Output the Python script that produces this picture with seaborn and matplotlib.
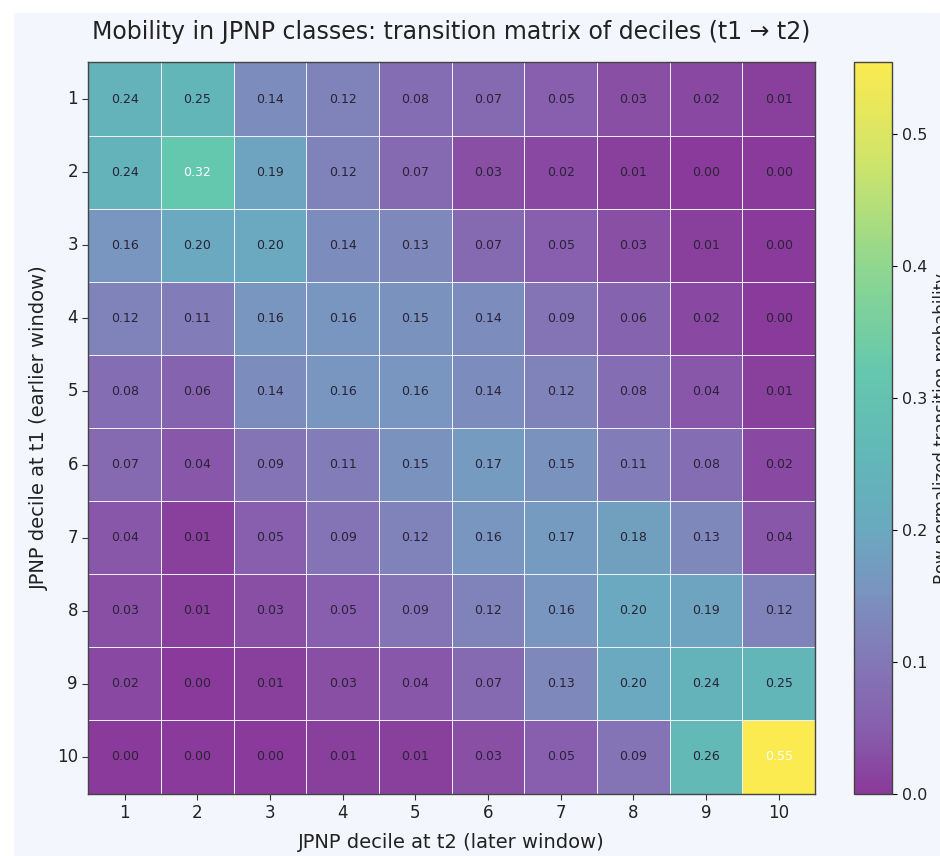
import numpy as np
import pandas as pd
import matplotlib
matplotlib.use("Agg")
import matplotlib.pyplot as plt
from matplotlib.colors import LinearSegmentedColormap
from matplotlib.patches import Rectangle
import seaborn as sns

deciles = [str(i) for i in range(1, 11)]
row_1 = [0.24, 0.25, 0.14, 0.12, 0.08, 0.07, 0.05, 0.03, 0.02, 0.01]
row_2 = [0.24, 0.32, 0.19, 0.12, 0.07, 0.03, 0.02, 0.01, 0.00, 0.00]
row_3 = [0.16, 0.20, 0.20, 0.14, 0.13, 0.07, 0.05, 0.03, 0.01, 0.00]
row_4 = [0.12, 0.11, 0.16, 0.16, 0.15, 0.14, 0.09, 0.06, 0.02, 0.00]
row_5 = [0.08, 0.06, 0.14, 0.16, 0.16, 0.14, 0.12, 0.08, 0.04, 0.01]
row_6 = [0.07, 0.04, 0.09, 0.11, 0.15, 0.17, 0.15, 0.11, 0.08, 0.02]
row_7 = [0.04, 0.01, 0.05, 0.09, 0.12, 0.16, 0.17, 0.18, 0.13, 0.04]
row_8 = [0.03, 0.01, 0.03, 0.05, 0.09, 0.12, 0.16, 0.20, 0.19, 0.12]
row_9 = [0.02, 0.00, 0.01, 0.03, 0.04, 0.07, 0.13, 0.20, 0.24, 0.25]
row_10 = [0.00, 0.00, 0.00, 0.01, 0.01, 0.03, 0.05, 0.09, 0.26, 0.554]

matrix = np.array([row_1, row_2, row_3, row_4, row_5, row_6, row_7, row_8, row_9, row_10])
df = pd.DataFrame(matrix, index=deciles, columns=deciles)
vmax = matrix.max()

# softened viridis-like palette as it appears in the reference
stops = [(0.00, "#8a3a9a"), (0.05, "#875fae"), (0.11, "#827db8"), (0.16, "#7897c0"),
         (0.20, "#6aa9bf"), (0.25, "#62b6b8"), (0.32, "#64c8ae"), (0.40, "#8fd78f"),
         (0.48, "#cfe46a"), (vmax, "#fbea50")]
cmap = LinearSegmentedColormap.from_list("soft_viridis", [(p / vmax, c) for p, c in stops])

bg = "#f3f6fc"
fig = plt.figure(figsize=(9.4, 8.56), dpi=100, facecolor=bg)
# white screenshot margins
fig.patches.append(Rectangle((0, 0), 0.014, 1, transform=fig.transFigure, color="white", zorder=-1))
fig.patches.append(Rectangle((0, 0.986), 1, 0.014, transform=fig.transFigure, color="white", zorder=-1))

ax = fig.add_axes([0.094, 0.073, 0.773, 0.854])
cax = fig.add_axes([0.909, 0.073, 0.040, 0.854])

sns.heatmap(df, ax=ax, cbar_ax=cax, cmap=cmap, vmin=0, vmax=vmax,
            annot=True, fmt=".2f", annot_kws={"fontsize": 9},
            linewidths=0.6, linecolor="#eef0f8",
            cbar_kws={"label": "Row-normalized transition probability"})

for t, v in zip(ax.texts, matrix.flatten()):
    t.set_color("white" if v > 0.3 else "#2a2236")

ax.set_facecolor(bg)
for s in ax.spines.values():
    s.set_visible(True)
    s.set_color("#444444")
    s.set_linewidth(1.0)
ax.tick_params(axis="both", labelsize=12, length=4, color="#333333", labelcolor="#222222")
ax.set_yticklabels(deciles, rotation=0)
ax.set_xticklabels(deciles, rotation=0)
ax.set_xlabel("JPNP decile at t2 (later window)", fontsize=14, color="#222222", labelpad=8)
ax.set_ylabel("JPNP decile at t1 (earlier window)", fontsize=14, color="#222222", labelpad=6)
ax.set_title("Mobility in JPNP classes: transition matrix of deciles (t1 \u2192 t2)", fontsize=17,
             color="#222222", pad=17)

cax.tick_params(labelsize=11.5, labelcolor="#222222")
cax.set_ylabel("Row-normalized transition probability", fontsize=12, color="#222222", labelpad=4)
cb = ax.collections[0].colorbar
cb.outline.set_edgecolor("#444444")
cb.outline.set_linewidth(1.0)
cb.set_ticks([0.0, 0.1, 0.2, 0.3, 0.4, 0.5])

fig.savefig("out.png", dpi=100, facecolor=bg)
